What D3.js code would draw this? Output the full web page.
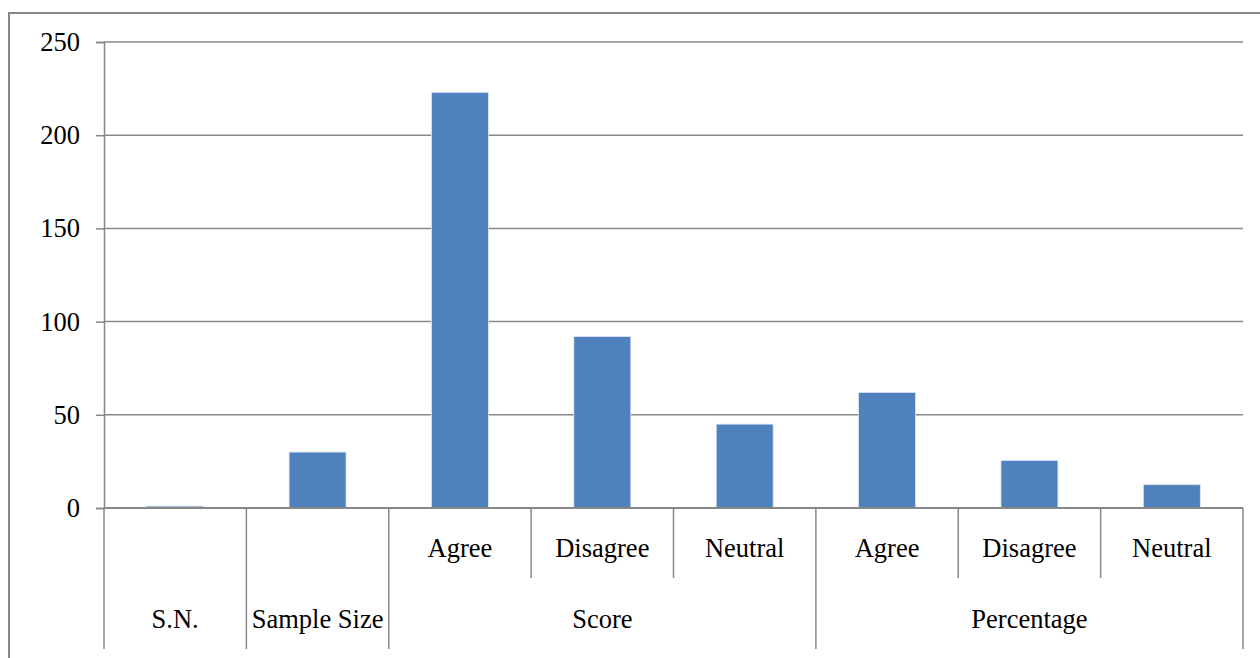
<!DOCTYPE html>
<html lang='en'>
<head>
  <meta charset='utf-8'>
  <script src="https://d3js.org/d3.v7.min.js"></script>
  <title>Score and percentage chart</title>
  <style>
    body { margin: 0; background: #fff; }
  </style>
</head>
<body>
  <div id="my_dataviz"></div>
  <script>
    // data
    const groups = ["S.N.", "Sample Size", "Score", "Score", "Score", "Percentage", "Percentage", "Percentage"];
    const subLabels = ["", "", "Agree", "Disagree", "Neutral", "Agree", "Disagree", "Neutral"];
    const values = [1, 30, 223, 92, 45, 62, 25.5, 12.5];
    const yTicks = [0, 50, 100, 150, 200, 250];

    const W = 1260, H = 658;
    const margin = {top: 42, left: 104, right: 17};
    const plotRight = W - margin.right;
    const zeroY = 508;
    const subY = 578, groupY = 649;
    const gridColor = "#878787";
    const serif = "Liberation Serif, Times New Roman, Tinos, DejaVu Serif, serif";
    const fontSize = 26.5;

    const svg = d3.select("#my_dataviz")
      .append("svg")
      .attr("width", W)
      .attr("height", H)
      .attr("font-family", serif);

    // outer frame
    svg.append("path")
      .attr("d", `M9,${H} L9,13 L${W},13`)
      .attr("fill", "none")
      .attr("stroke", gridColor)
      .attr("stroke-width", 2);

    const idx = d3.range(values.length);
    const x = d3.scaleBand()
      .domain(idx)
      .range([margin.left, plotRight])
      .paddingInner(0.6)
      .paddingOuter(0.3);
    const step = x.step();
    const slotLeft = i => x(i) - x.paddingOuter() * step;

    const y = d3.scaleLinear()
      .domain([0, 250])
      .range([zeroY, margin.top]);

    // gridlines
    svg.append("g")
      .selectAll("line")
      .data(yTicks.filter(d => d > 0))
      .join("line")
        .attr("x1", margin.left)
        .attr("x2", plotRight)
        .attr("y1", d => y(d))
        .attr("y2", d => y(d))
        .attr("stroke", gridColor)
        .attr("stroke-width", 1.5);

    // y axis
    const yAxis = svg.append("g")
      .attr("transform", `translate(${margin.left},0)`)
      .call(d3.axisLeft(y).tickValues(yTicks).tickSize(8).tickPadding(16))
      .attr("font-family", serif)
      .attr("font-size", fontSize);
    yAxis.selectAll("path, line").attr("stroke", gridColor).attr("stroke-width", 1.5);
    yAxis.selectAll("text").attr("fill", "#000");

    // bars
    svg.append("g")
      .selectAll("rect")
      .data(idx)
      .join("rect")
        .attr("x", i => x(i))
        .attr("y", i => y(values[i]))
        .attr("width", x.bandwidth())
        .attr("height", i => y(0) - y(values[i]))
        .attr("fill", "#4F81BD")
        .attr("stroke", "#dbe5f1")
        .attr("stroke-width", 0.8);

    // x axis baseline
    svg.append("line")
      .attr("x1", margin.left).attr("x2", plotRight)
      .attr("y1", zeroY).attr("y2", zeroY)
      .attr("stroke", gridColor).attr("stroke-width", 2);

    // dividers: long ones between groups, short ones inside a group
    const bounds = d3.range(values.length + 1);
    svg.append("g")
      .selectAll("line")
      .data(bounds)
      .join("line")
        .attr("x1", i => i < values.length ? slotLeft(i) : plotRight)
        .attr("x2", i => i < values.length ? slotLeft(i) : plotRight)
        .attr("y1", zeroY)
        .attr("y2", i => (i === 0 || i === values.length || groups[i] !== groups[i - 1]) ? groupY : subY)
        .attr("stroke", gridColor)
        .attr("stroke-width", 1.5);

    // sub labels
    svg.append("g")
      .selectAll("text")
      .data(idx.filter(i => subLabels[i]))
      .join("text")
        .attr("x", i => x(i) + x.bandwidth() / 2)
        .attr("y", 557)
        .attr("text-anchor", "middle")
        .attr("font-family", serif)
        .attr("font-size", fontSize)
        .text(i => subLabels[i]);

    // group labels
    const groupSpans = [];
    idx.forEach(i => {
      const last = groupSpans[groupSpans.length - 1];
      if (last && last.name === groups[i]) last.end = i;
      else groupSpans.push({name: groups[i], start: i, end: i});
    });
    svg.append("g")
      .selectAll("text")
      .data(groupSpans)
      .join("text")
        .attr("x", g => (slotLeft(g.start) + slotLeft(g.end) + step) / 2)
        .attr("y", 628)
        .attr("text-anchor", "middle")
        .attr("font-family", serif)
        .attr("font-size", fontSize)
        .text(g => g.name);
  </script>
</body>
</html>
